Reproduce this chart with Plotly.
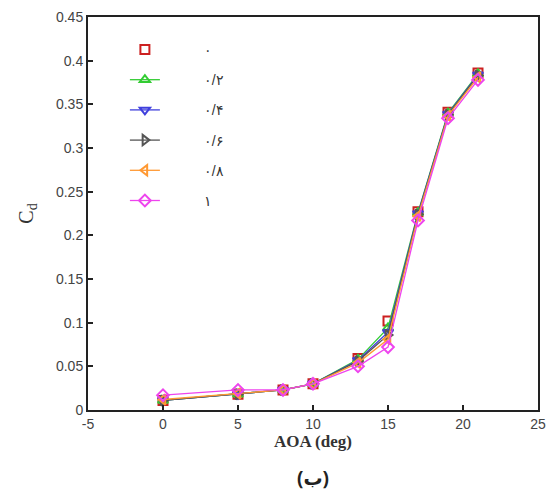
import plotly.graph_objects as go

AOA = [0, 5, 8, 10, 13, 15, 17, 19, 21]
labels = ["۰", "۰/۲", "۰/۴", "۰/۶", "۰/۸", "۱"]
cd_0 = [0.011, 0.018, 0.023, 0.030, 0.059, 0.102, 0.227, 0.341, 0.386]
cd_02 = [0.011, 0.018, 0.023, 0.030, 0.058, 0.094, 0.226, 0.340, 0.385]
cd_04 = [0.011, 0.018, 0.023, 0.030, 0.057, 0.089, 0.225, 0.339, 0.384]
cd_06 = [0.011, 0.018, 0.023, 0.030, 0.056, 0.086, 0.224, 0.338, 0.383]
cd_08 = [0.012, 0.019, 0.023, 0.030, 0.054, 0.081, 0.222, 0.337, 0.381]
cd_1 = [0.017, 0.023, 0.023, 0.030, 0.050, 0.072, 0.217, 0.334, 0.378]
series = [cd_0, cd_02, cd_04, cd_06, cd_08, cd_1]
x_ticks = [-5, 0, 5, 10, 15, 20, 25]
y_ticks = [0, 0.05, 0.1, 0.15, 0.2, 0.25, 0.3, 0.35, 0.4, 0.45]

colors = ["#cc2020", "#33cc33", "#4040dd", "#555555", "#ff9933", "#ee44ee"]
symbols = ["square-open", "triangle-up-open", "triangle-down-open",
           "triangle-right-open", "triangle-left-open", "diamond-open"]

fig = go.Figure()
for i, (lab, ys) in enumerate(zip(labels, series)):
    fig.add_trace(go.Scatter(
        x=AOA, y=ys, name="          " + lab,
        mode="markers" if i == 0 else "lines+markers",
        legendgroup=str(i),
        line=dict(color=colors[i], width=1.3),
        marker=dict(symbol=symbols[i], size=9, color=colors[i],
                    line=dict(width=2, color=colors[i])),
    ))

fig.update_layout(
    width=546, height=492,
    margin=dict(l=80, r=16, t=9, b=90),
    paper_bgcolor="white", plot_bgcolor="white",
    font=dict(family="Arial, Liberation Sans", size=14, color="#444"),
    legend=dict(x=0.082, y=0.957, xanchor="left", yanchor="top",
                bgcolor="rgba(0,0,0,0)", tracegroupgap=9,
                font=dict(size=14, color="#333")),
    xaxis=dict(range=[-5, 25], tickvals=x_ticks,
               ticktext=[str(v) for v in x_ticks],
               ticks="inside", ticklen=5, tickwidth=1.5, tickcolor="#222",
               showline=True, linecolor="#222", linewidth=2, mirror=True,
               showgrid=False, zeroline=False, automargin=False,
               title=dict(text="<b>AOA (deg)</b>",
                          font=dict(family="Liberation Serif, Times New Roman", size=17, color="#333"),
                          standoff=1)),
    yaxis=dict(range=[0, 0.45], tickvals=y_ticks,
               ticktext=[("%g" % v) for v in y_ticks],
               ticks="inside", ticklen=5, tickwidth=1.5, tickcolor="#222",
               showline=True, linecolor="#222", linewidth=2, mirror=True,
               showgrid=False, zeroline=False, automargin=False,
               title=dict(text="C<sub>d</sub>",
                          font=dict(family="Liberation Serif, Times New Roman", size=20, color="#333"),
                          standoff=17)),
    annotations=[dict(text="<b>(ب)</b>", x=0.5, y=-0.173, xref="paper", yref="paper",
                      xanchor="center", yanchor="middle", showarrow=False,
                      font=dict(family="Noto Sans, DejaVu Sans", size=19, color="#222"))],
)

fig.write_html("out.html")
